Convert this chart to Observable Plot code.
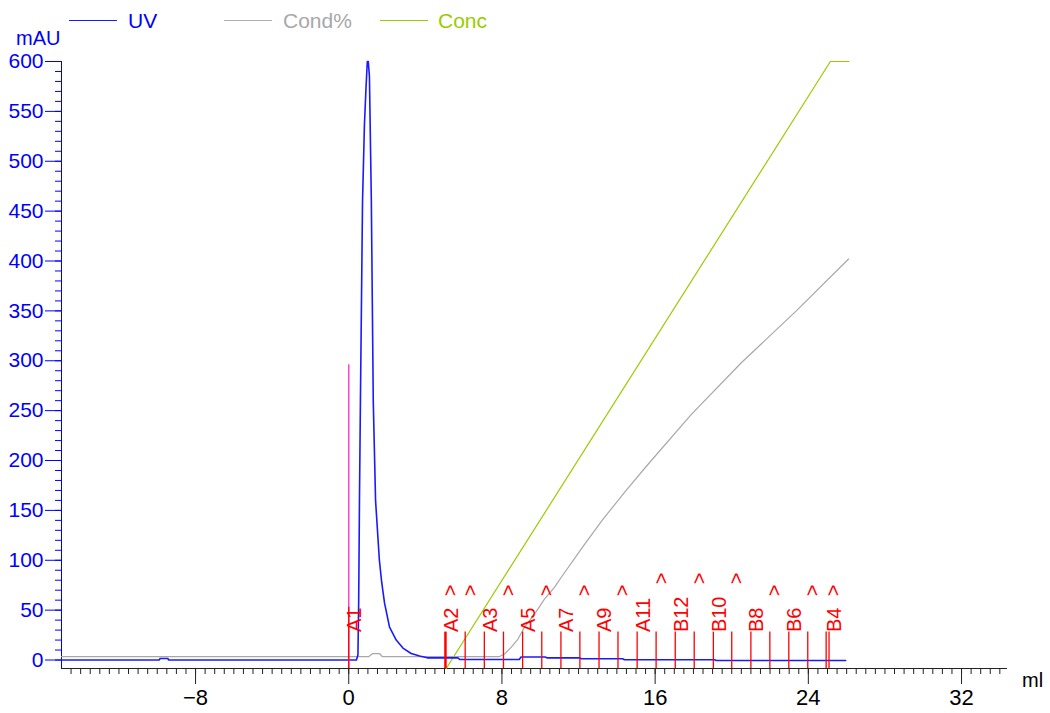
<!DOCTYPE html>
<html><head><meta charset="utf-8">
<script src="https://cdn.jsdelivr.net/npm/d3@7"></script>
<script src="https://cdn.jsdelivr.net/npm/@observablehq/plot@0.6"></script>
<style>
body{margin:0;background:#fff;font-family:"Liberation Sans",Arial,sans-serif;}
#wrap{position:relative;width:1050px;height:713px;overflow:hidden;}
.t{position:absolute;white-space:nowrap;line-height:1;}
.sw{position:absolute;height:0;border-top:1.3px solid;}
</style></head><body>
<div id="wrap">
  <div id="chart"></div>
  <div class="sw" style="left:69px;top:20px;width:48px;border-color:#1a1aff"></div>
  <div class="t" style="left:128px;top:10px;font-size:21px;color:#0000ff">UV</div>
  <div class="sw" style="left:224px;top:20px;width:48px;border-color:#b0b0b0"></div>
  <div class="t" style="left:283px;top:10px;font-size:21px;color:#a8a8a8">Cond%</div>
  <div class="sw" style="left:380px;top:20px;width:48px;border-color:#99cc00"></div>
  <div class="t" style="left:438px;top:10px;font-size:21px;color:#99cc00">Conc</div>
  <div class="t" style="left:16px;top:28px;font-size:20px;color:#0000ff">mAU</div>
  <div class="t" style="left:1022px;top:670px;font-size:20px;color:#000">ml</div>
</div>
<script>
// ---- data ----
const uvX = [-15, -9.9, -9.85, -9.45, -9.4, 0.40, 0.48, 0.52, 0.56, 0.61, 0.72, 0.82, 0.90, 0.97, 1.02, 1.08, 1.14, 1.18, 1.28, 1.40, 1.60, 1.72, 1.87, 2.13, 2.48, 2.83, 3.26, 3.70, 4.10, 5.70, 5.80, 8.90, 9.00, 10.25, 10.35, 12.05, 12.15, 14.3, 14.4, 19.1, 19.2, 25.95];
const uvY = [0, 0, 1.5, 1.5, 0, 0, 5, 60, 160, 260, 460, 537, 573, 600, 600, 585, 510, 460, 260, 160, 100, 78, 57, 33, 20, 12, 6.5, 4, 2.2, 2.2, 0.5, 0.5, 3, 3, 2.2, 2.2, 1.2, 1.2, 0.3, 0.3, -0.5, -0.5];
const condX = [-15, 1.05, 1.25, 1.6, 1.75, 7.87, 8.14, 8.49, 8.84, 9.18, 9.70, 10.22, 10.75, 11.1, 12.2, 13.23, 14.4, 15.53, 17.88, 20.5, 23.37, 26.1];
const condY = [3.5, 3.5, 6.5, 6.5, 3.5, 3.5, 6, 13, 21, 33, 46, 61, 73, 83, 113, 140, 168, 194, 246, 298, 350, 402];
const concX = [5.09, 25.15, 26.12];
const concY = [-8.5, 600, 600];
const fracX = [0, 5.05, 6.08, 7.08, 8.08, 9.08, 10.08, 11.08, 12.07, 13.07, 14.06, 15.06, 16.05, 17.05, 18.04, 19.04, 20.0, 21.0, 21.99, 22.98, 23.97, 24.93, 25.08];
const fracLabel = ["A1", "A2", "", "A3", "", "A5", "", "A7", "", "A9", "", "A11", "", "B12", "", "B10", "", "B8", "", "B6", "", "", "B4"];
const caretX = [5.05, 6.08, 8.08, 10.08, 12.07, 14.06, 16.05, 18.04, 20.0, 21.99, 23.97, 25.08];
const caretY = [64, 64, 64, 64, 64, 64, 76, 76, 76, 64, 64, 64];
const injectionX = [0];
const injectionTop = 296;
const xMajorTicks = [-8, 0, 8, 16, 24, 32];
const yMajorTicks = [0, 50, 100, 150, 200, 250, 300, 350, 400, 450, 500, 550, 600];

// ---- build ----
const xDomain = [-15, 34.4], yDomain = [-8.5, 600];
const xMinorTicks = d3.range(-14.5, 34.01, 0.5);
const yMinorTicks = d3.range(0, 600.1, 10);
const uv = uvX.map((x, i) => ({x, y: uvY[i]}));
const cond = condX.map((x, i) => ({x, y: condY[i]}));
const conc = concX.map((x, i) => ({x, y: concY[i]}));
const fr = fracX.map((x, i) => ({x, label: fracLabel[i], i}));
const labels = fr.filter(d => d.label);
const carets = caretX.map((x, i) => ({x, y: caretY[i]}));
const blue = "#0000ff";

const chart = Plot.plot({
  width: 1050, height: 713,
  marginLeft: 61, marginRight: 43, marginTop: 61, marginBottom: 45,
  x: {domain: xDomain}, y: {domain: yDomain},
  style: {fontFamily: "'Liberation Sans', Arial, sans-serif", background: "white"},
  marks: [
    Plot.axisX(xMinorTicks, {tickSize: 6, fill: "none", stroke: "#222", label: null}),
    Plot.axisX(xMajorTicks, {tickSize: 16, tickPadding: 5, fontSize: 22, fill: "#000", stroke: "#222", label: null}),
    Plot.axisY(yMinorTicks, {tickSize: 6, fill: "none", stroke: blue, label: null}),
    Plot.axisY(yMajorTicks, {tickSize: 16, tickPadding: 2, fontSize: 21, fill: blue, stroke: blue, label: null}),
    Plot.ruleY([yDomain[0]], {stroke: "#222"}),
    Plot.ruleX([xDomain[0]], {y1: yDomain[0], y2: yDomain[1], stroke: blue}),
    Plot.line(cond, {x: "x", y: "y", stroke: "#a8a8a8", strokeWidth: 1.2}),
    Plot.line(conc, {x: "x", y: "y", stroke: "#99cc00", strokeWidth: 1.2}),
    Plot.line(uv, {x: "x", y: "y", stroke: "#1a1aff", strokeWidth: 1.6}),
    Plot.ruleX(injectionX, {y1: yDomain[0], y2: injectionTop, stroke: "#ff44cc", strokeWidth: 1.5}),
    Plot.ruleX(fr, {x: "x", y1: yDomain[0], y2: d => d.i === 0 ? 53 : 28, stroke: "#ff0000",
      strokeWidth: d => d.label === "A2" ? 2.5 : 1.3}),
    Plot.text(labels, {x: "x", y: 28, text: "label", rotate: -90, textAnchor: "start", fill: "#ff0000",
      fontSize: 20, dx: 6, ariaLabel: "fraction-label"}),
    Plot.text(carets, {x: "x", y: "y", text: () => ">", rotate: -90, textAnchor: "start", fill: "#ff0000",
      fontSize: 20, dx: 5, ariaLabel: "fraction-caret"})
  ]
});
document.getElementById("chart").appendChild(chart);
chart.querySelectorAll('g[aria-label="fraction-label"] text, g[aria-label="fraction-caret"] text').forEach(t => {
  const tr = t.getAttribute("transform") || "";
  t.setAttribute("transform", tr + " scale(1.2,1)");
});
</script>
</body></html>
